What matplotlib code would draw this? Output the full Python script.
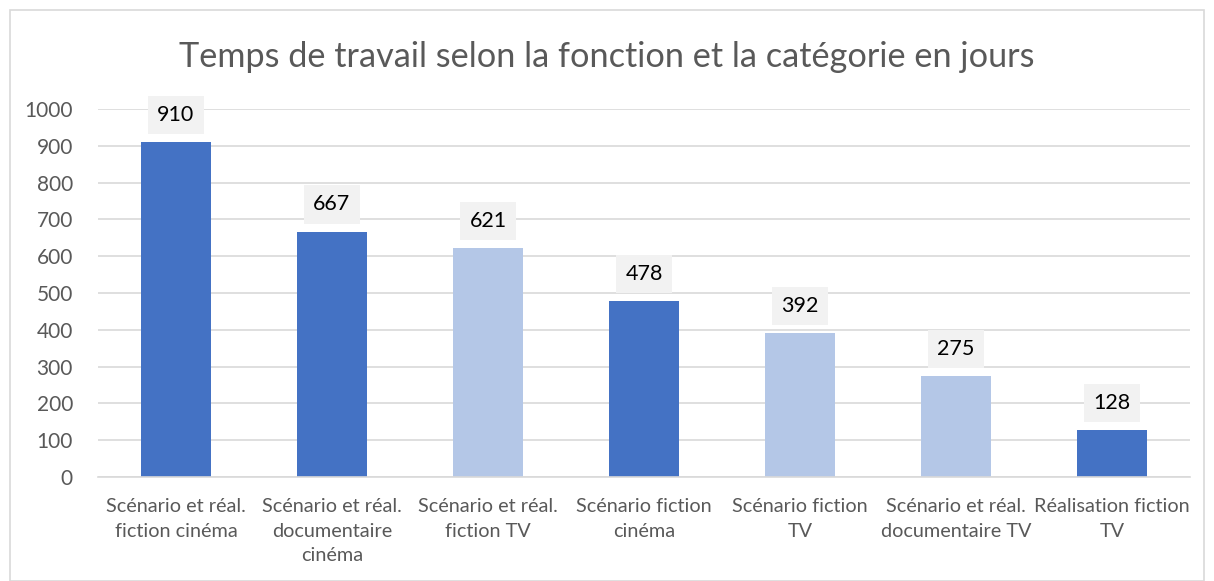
import matplotlib.pyplot as plt
from matplotlib.patches import Rectangle

# Données
categories = [
    "Scénario et réal.\nfiction cinéma",
    "Scénario et réal.\ndocumentaire\ncinéma",
    "Scénario et réal.\nfiction TV",
    "Scénario fiction\ncinéma",
    "Scénario fiction\nTV",
    "Scénario et réal.\ndocumentaire TV",
    "Réalisation fiction\nTV",
]
jours = [910, 667, 621, 478, 392, 275, 128]
# cinéma / réalisation en bleu foncé, TV en bleu clair
teintes = ["fonce", "fonce", "clair", "fonce", "clair", "clair", "fonce"]
yticks = [0, 100, 200, 300, 400, 500, 600, 700, 800, 900, 1000]

palette = {"fonce": "#4472C4", "clair": "#B4C7E7"}
gris = "#595959"
plt.rcParams['font.family'] = ['Lato', 'DejaVu Sans']

fig = plt.figure(figsize=(12.14, 5.81), dpi=100)
fig.patches.append(Rectangle((10 / 1214, 0.0), 1194 / 1214, 1 - 10 / 581,
                             transform=fig.transFigure, fill=False,
                             edgecolor="#D9D9D9", linewidth=1.2))

ax = fig.add_axes([98 / 1214, 1 - 477 / 581, 1092 / 1214, 368 / 581])
x = range(len(categories))
ax.bar(x, jours, width=0.455, color=[palette[t] for t in teintes], zorder=2)

ax.set_ylim(0, 1000)
ax.set_xlim(-0.5, len(categories) - 0.5)
ax.set_yticks(yticks)
ax.set_yticklabels([str(v) for v in yticks], fontsize=15, color=gris)
ax.set_xticks(list(x))
ax.set_xticklabels(categories, fontsize=14.3, color=gris, linespacing=1.55)
ax.tick_params(axis="both", length=0)
ax.tick_params(axis="x", pad=15)
ax.tick_params(axis="y", pad=18)
ax.grid(axis="y", color="#D9D9D9", linewidth=1.2, zorder=0)
for side in ["top", "right", "left"]:
    ax.spines[side].set_visible(False)
ax.spines["bottom"].set_color("#D9D9D9")
ax.spines["bottom"].set_linewidth(1.2)

# Étiquettes de valeurs dans des boîtes grises
for xi, v in zip(x, jours):
    ax.annotate(str(v), (xi, v), xytext=(0, 19.5), textcoords="offset points",
                ha="center", va="center", fontsize=15.5, color="black",
                bbox=dict(boxstyle="square,pad=0.42", facecolor="#F2F2F2",
                          edgecolor="none"), zorder=3)

fig.text(0.5, 1 - 57 / 581, "Temps de travail selon la fonction et la catégorie en jours",
         ha="center", va="center", fontsize=24.7, color=gris)

fig.savefig("out.png", dpi=100)
